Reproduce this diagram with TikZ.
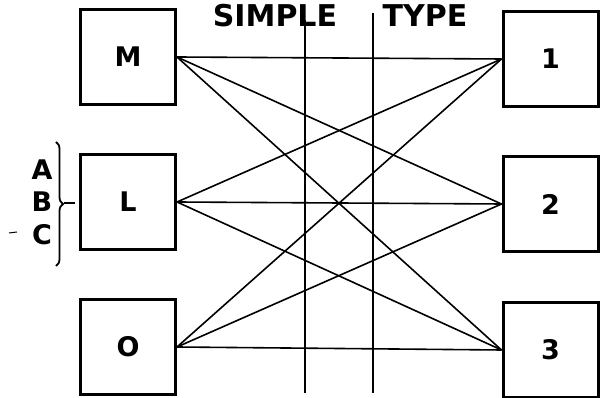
\documentclass[tikz,border=0pt]{standalone}
\usepackage{fontspec}
\setmainfont{DejaVu Sans}
\usetikzlibrary{decorations.pathreplacing}
\begin{document}
\begin{tikzpicture}[x=1pt,y=1pt,
  box/.style={draw, line width=3pt, minimum width=95pt, minimum height=95pt, inner sep=0pt,
    font=\bfseries\fontsize{27}{27}\selectfont},
  link/.style={line width=1.6pt},
  rule/.style={line width=2pt},
  title/.style={inner sep=0pt, font=\bfseries\fontsize{30}{30}\selectfont},
  letter/.style={inner sep=0pt, font=\bfseries\fontsize{27}{27}\selectfont}]
\useasboundingbox (0,0) rectangle (600,398);
% boxes
\node[box] (M) at (128,341) {M};
\node[box] (L) at (128,196) {L};
\node[box] (O) at (128,51) {O};
\node[box] (one) at (550.5,339) {1};
\node[box] (two) at (550.5,194) {2};
\node[box] (three) at (550.5,48) {3};
% title
\node[title] (simple) at (275,382) {SIMPLE};
\node[title] (type) at (425,382) {TYPE};
% vertical rules
\coordinate (v1top) at (305,378);
\coordinate (v1bot) at (305,5);
\coordinate (v2top) at (373,385);
\coordinate (v2bot) at (373,5);
\draw[rule] (v1top) -- (v1bot);
\draw[rule] (v2top) -- (v2bot);
% links
\foreach \a in {M,L,O}{
  \foreach \b in {one,two,three}{
    \draw[link] (\a.east) -- (\b.west);
  }
}
% brace
\coordinate (bt) at (56,256);
\coordinate (bb) at (56,132);
\draw[line width=1.8pt, decorate, decoration={brace, amplitude=7pt}] (bt) -- (bb);
\coordinate (btip) at (64,195);
\coordinate (bend) at (75,195);
\draw[line width=1.8pt] (btip) -- (bend);
\node[letter] (A) at (42,228) {A};
\node[letter] (B) at (42,196) {B};
\node[letter] (C) at (42,163) {C};
\coordinate (s1) at (9,165);
\coordinate (s2) at (17,166);
\draw[line width=1pt] (s1) -- (s2);
\end{tikzpicture}
\end{document}
